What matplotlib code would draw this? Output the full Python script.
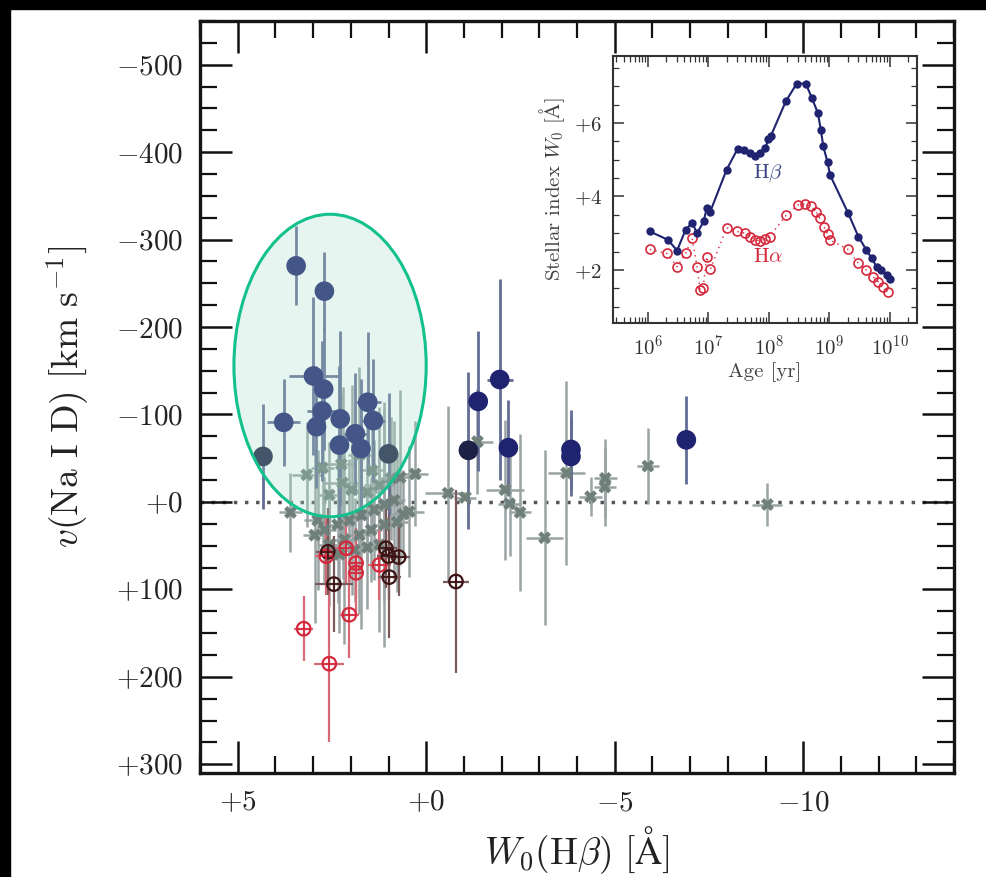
import numpy as np
import matplotlib
matplotlib.use("Agg")
import matplotlib.pyplot as plt
from matplotlib.patches import Ellipse, Rectangle
from matplotlib.ticker import MultipleLocator, FixedLocator, LogLocator, NullFormatter

plt.rcParams['mathtext.fontset'] = 'cm'
plt.rcParams['font.family'] = 'serif'
plt.rcParams['font.serif'] = ['cmr10', 'DejaVu Serif']
plt.rcParams['axes.formatter.use_mathtext'] = True

# --- main panel data: W0(Hbeta) [A] vs v(Na I D) [km/s] ---
gray_x = [3.17, 2.75, 2.25, 1.77, 1.43, 2.22, 2.57, 1.98, 1.56, 1.24,
          0.93, 0.69, 0.29, 0.45, 0.61, 0.85, 1.11, 1.38, 1.72, 2.04,
          2.35, 2.70, 2.96, 2.88, 2.57, 2.17, 1.77, 1.46, 1.11, 0.77,
          1.90, 1.56, 1.24, 2.30, 3.60, -0.58, -1.03, -1.36, -2.09, -2.21,
          -2.49, -3.14, -3.72, -4.36, -4.75, -4.74, -5.88, -9.05]
gray_y = [-31, -39, -43, -54, -36, -22, -8, -14, -11, -19,
          -27, -28, -32, 11, 14, -2, 3, 9, 15, 21,
          26, 32, 38, 21, 49, 43, 38, 32, 26, 23,
          55, 52, 49, 60, 12, -10, -5, -69, -14, 2,
          12, 41, -33, -6, -27, -17, -41, 3]
gray_yerr = [60, 90, 80, 100, 70, 110, 60, 120, 80, 90,
             70, 100, 60, 75, 50, 90, 110, 80, 130, 70,
             90, 60, 100, 80, 70, 120, 90, 60, 140, 80,
             60, 70, 100, 90, 45, 100, 0, 60, 80, 60,
             90, 100, 105, 22, 45, 45, 43, 25]
gray_xerr = [0.4, 0.3, 0.35, 0.3, 0.3, 0.5, 0.3, 0.35, 0.3, 0.4,
             0.3, 0.3, 0.35, 0.4, 0.3, 0.3, 0.35, 0.3, 0.3, 0.3,
             0.35, 0.3, 0.3, 0.35, 0.3, 0.3, 0.3, 0.3, 0.3, 0.3,
             0.3, 0.3, 0.3, 0.3, 0.3, 0.6, 0.3, 0.4, 0.5, 0.3,
             0.3, 0.5, 0.5, 0.3, 0.3, 0.3, 0.3, 0.4]

blue_x = [3.45, 2.70, 2.99, 2.72, 2.76, 2.91, 2.28, 3.78, 2.30, 1.88,
          1.73, 1.55, 1.40, -1.38, -1.95, -2.18, -3.84, -3.84, -6.90]
blue_y = [-270, -241, -144, -129, -104, -86, -95, -91, -65, -78,
          -61, -114, -93, -115, -140, -62, -52, -60, -71]
blue_yerr = [45, 45, 90, 70, 80, 70, 100, 50, 90, 70,
             80, 80, 70, 80, 115, 55, 45, 45, 50]
blue_xerr = [0.0, 0.0, 0.65, 0.0, 0.4, 0.0, 0.0, 0.43, 0.0, 0.3,
             0.0, 0.35, 0.3, 0.0, 0.35, 0.0, 0.0, 0.0, 0.0]

dblue_x = [4.33, 1.00, -1.12]
dblue_y = [-52, -55, -59]
dblue_yerr = [60, 70, 90]

red_x = [2.65, 2.12, 1.86, 1.86, 2.04, 3.25, 2.57, 1.24]
red_y = [62, 53, 70, 81, 129, 145, 185, 72]
red_yerr = [45, 40, 40, 50, 50, 37, 90, 40]
red_xerr = [0.3, 0.3, 0.2, 0.2, 0.25, 0.25, 0.4, 0.3]

dred_x = [2.61, 2.45, 1.07, 1.00, 0.73, 0.98, -0.79]
dred_y = [57, 94, 53, 62, 63, 86, 91]
dred_yerr = [50, 55, 45, 50, 45, 70, 105]
dred_xerr = [0.3, 0.5, 0.3, 0.3, 0.3, 0.3, 0.35]

# highlighted region (centre x, centre y, width, height)
ell_center = (2.55, -156)
ell_width = 5.1
ell_height = 346

# --- inset data: stellar population models ---
hb_logage = [6.03, 6.33, 6.48, 6.62, 6.73, 6.81, 6.92, 6.97, 7.03, 7.30,
             7.48, 7.59, 7.69, 7.77, 7.85, 7.94, 7.99, 8.03, 8.28, 8.46,
             8.61, 8.71, 8.81, 8.86, 8.90, 8.97, 9.01, 9.31, 9.48, 9.61,
             9.70, 9.78, 9.86, 9.95, 10.00]
hb_w0 = [3.05, 2.82, 2.53, 3.09, 3.29, 3.00, 3.32, 3.68, 3.59, 4.73,
         5.29, 5.27, 5.18, 5.11, 5.18, 5.32, 5.55, 5.64, 6.59, 7.07,
         7.07, 6.68, 6.27, 5.80, 5.36, 4.93, 4.59, 3.55, 2.91, 2.55,
         2.32, 2.09, 2.00, 1.86, 1.75]

ha_logage = [6.03, 6.31, 6.48, 6.62, 6.73, 6.81, 6.86, 6.91, 6.97, 7.03,
             7.30, 7.47, 7.61, 7.69, 7.77, 7.85, 7.94, 8.01, 8.29, 8.48,
             8.60, 8.69, 8.78, 8.84, 8.91, 8.97, 9.01, 9.31, 9.48, 9.61,
             9.72, 9.81, 9.89, 9.97]
ha_w0 = [2.56, 2.45, 2.09, 2.45, 2.86, 2.09, 1.47, 1.50, 2.36, 2.02,
         3.15, 3.05, 3.00, 2.91, 2.82, 2.79, 2.84, 2.91, 3.50, 3.77,
         3.80, 3.73, 3.59, 3.41, 3.18, 2.98, 2.82, 2.56, 2.18, 2.00,
         1.82, 1.68, 1.55, 1.41]

C_GRAY = '#6f807b'
C_GRAYBAR = '#9aa4a4'
C_BLUE = '#1f2370'
C_DBLUE = '#1c2145'
C_BLUEBAR = '#646c96'
C_RED = '#d5283c'
C_REDBAR = '#d86a78'
C_DRED = '#3d1414'
C_DREDBAR = '#7a5a5a'
C_TEXT = '#222222'

fig = plt.figure(figsize=(9.86, 8.77), dpi=100)
fig.patch.set_facecolor('white')
# dark borders of the original scan
fig.add_artist(Rectangle((0, 1 - 9 / 877), 1, 9 / 877, transform=fig.transFigure,
                         color='black', zorder=-5))
fig.add_artist(Rectangle((0, 0), 10 / 986, 1, transform=fig.transFigure,
                         color='black', zorder=-5))

ax = fig.add_axes([200 / 986, 104 / 877, 754 / 986, 752 / 877])

ax.axhline(0, color='#555555', lw=2.5, ls=(0, (1, 2.2)), zorder=1)

ax.errorbar(gray_x, gray_y, yerr=gray_yerr, xerr=gray_xerr, fmt='none',
            ecolor=C_GRAYBAR, elinewidth=1.8, capsize=0, zorder=2)
ax.errorbar(red_x, red_y, yerr=red_yerr, xerr=red_xerr, fmt='none',
            ecolor=C_REDBAR, elinewidth=1.6, capsize=0, zorder=2)
ax.errorbar(dred_x, dred_y, yerr=dred_yerr, xerr=dred_xerr, fmt='none',
            ecolor=C_DREDBAR, elinewidth=1.6, capsize=0, zorder=2)
ax.errorbar(blue_x, blue_y, yerr=blue_yerr, xerr=blue_xerr, fmt='none',
            ecolor=C_BLUEBAR, elinewidth=2.0, capsize=0, zorder=2)
ax.errorbar(dblue_x, dblue_y, yerr=dblue_yerr, fmt='none',
            ecolor=C_BLUEBAR, elinewidth=2.0, capsize=0, zorder=2)

ax.scatter(gray_x, gray_y, marker='X', s=85, color=C_GRAY, edgecolor='none', zorder=3)
ax.scatter(red_x, red_y, marker='o', s=95, facecolor='none', edgecolor=C_RED,
           linewidth=1.6, zorder=4)
ax.scatter(dred_x, dred_y, marker='o', s=95, facecolor='none', edgecolor=C_DRED,
           linewidth=1.6, zorder=4)
ax.plot(red_x, red_y, ls='none', marker='+', ms=10, mew=1.2, color=C_RED, zorder=4)
ax.plot(dred_x, dred_y, ls='none', marker='+', ms=10, mew=1.2, color=C_DRED, zorder=4)
ax.scatter(blue_x, blue_y, marker='o', s=200, color=C_BLUE, edgecolor='none', zorder=5)
ax.scatter(dblue_x, dblue_y, marker='o', s=200, color=C_DBLUE, edgecolor='none', zorder=5)

ax.add_patch(Ellipse(ell_center, ell_width, ell_height, facecolor='#a6dcc8',
                     alpha=0.28, edgecolor='none', zorder=6))
ax.add_patch(Ellipse(ell_center, ell_width, ell_height, facecolor='none',
                     edgecolor='#14c18c', lw=2.2, zorder=7))

ax.set_xlim(6, -14)
ax.set_ylim(310, -550)

xt = [5, 0, -5, -10]
ax.xaxis.set_major_locator(FixedLocator(xt))
ax.set_xticklabels([r'$+5$', r'$+0$', r'$-5$', r'$-10$'])
ax.xaxis.set_minor_locator(MultipleLocator(1))
yt = [-500, -400, -300, -200, -100, 0, 100, 200, 300]
ax.yaxis.set_major_locator(FixedLocator(yt))
ax.set_yticklabels([r'$%+d$' % v if v != 0 else r'$+0$' for v in yt])
ax.yaxis.set_minor_locator(MultipleLocator(25))
ax.tick_params(which='both', direction='in', top=True, right=True,
               labelsize=21, colors='#111111', labelcolor=C_TEXT)
ax.tick_params(which='major', length=23, width=1.8, pad=12)
ax.tick_params(which='minor', length=12, width=1.6)
for sp in ax.spines.values():
    sp.set_linewidth(2.4)
    sp.set_color('#151515')

ax.set_xlabel(r'$W_0(\mathrm{H}\beta)\ [\mathrm{\AA}]$', fontsize=27, color=C_TEXT, labelpad=6)
ax.set_ylabel(r'$v(\mathrm{Na\ I\ D})\ [\mathrm{km\ s^{-1}}]$', fontsize=27,
              color=C_TEXT, labelpad=18)

# --- inset ---
ins = fig.add_axes([613 / 986, (877 - 323) / 877, 304 / 986, 267 / 877])
ins.set_facecolor('white')
ins.set_zorder(10)
hb_age = 10.0 ** np.array(hb_logage)
ha_age = 10.0 ** np.array(ha_logage)
ins.plot(ha_age, ha_w0, ls=(0, (1, 3)), lw=1.0, color=C_RED, zorder=2)
ins.plot(ha_age, ha_w0, ls='none', marker='o', ms=6.5, mfc='none', mec=C_RED,
         mew=1.2, zorder=3)
ins.plot(hb_age, hb_w0, ls='-', lw=1.5, color=C_BLUE, marker='o', ms=5,
         mfc=C_BLUE, mec=C_BLUE, zorder=4)
ins.text(10 ** 7.99, 4.64, r'$\mathrm{H}\beta$', color='#3a4685', fontsize=15,
         ha='center', va='center')
ins.text(10 ** 7.99, 2.36, r'$\mathrm{H}\alpha$', color=C_RED, fontsize=15,
         ha='center', va='center')

ins.set_xscale('log')
ins.set_xlim(10 ** 5.42, 10 ** 10.45)
ins.set_ylim(0.56, 7.82)
ins.xaxis.set_major_locator(LogLocator(base=10, numticks=12))
ins.xaxis.set_minor_locator(LogLocator(base=10, subs=np.arange(2, 10), numticks=12))
ins.xaxis.set_minor_formatter(NullFormatter())
ins.yaxis.set_major_locator(FixedLocator([2, 4, 6]))
ins.set_yticklabels([r'$+2$', r'$+4$', r'$+6$'])
ins.yaxis.set_minor_locator(MultipleLocator(0.5))
ins.tick_params(which='both', direction='in', top=True, right=True,
                labelsize=15, colors='#333333', labelcolor='#333333')
ins.tick_params(which='major', length=8, width=1.1, pad=8)
ins.tick_params(which='minor', length=4, width=0.9)
for sp in ins.spines.values():
    sp.set_linewidth(1.5)
    sp.set_color('#333333')
ins.set_xlabel('Age [yr]', fontsize=15, color='#444444', labelpad=3)
ins.set_ylabel(r'Stellar index $W_0$ [$\mathrm{\AA}$]', fontsize=15, color='#444444',
               labelpad=5)

fig.savefig('out.png', dpi=100)
